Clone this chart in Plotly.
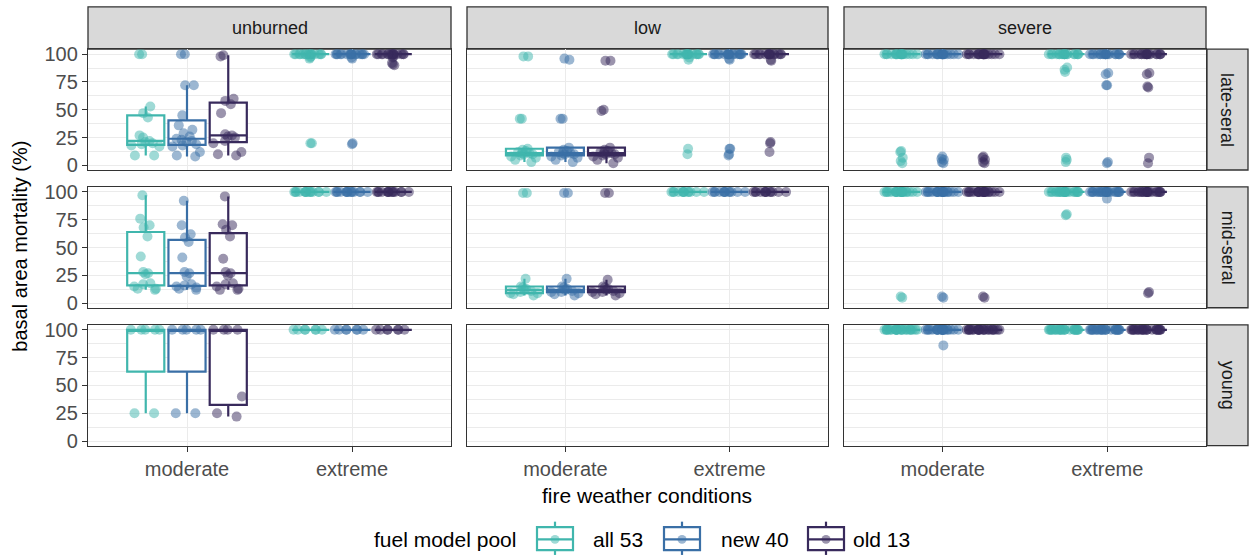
import plotly.graph_objects as go
from plotly.subplots import make_subplots

W, H = 1250, 558

severities = ["unburned", "low", "severe"]
structures = ["late-seral", "mid-seral", "young"]
weather = ["moderate", "extreme"]
pools = ["all 53", "new 40", "old 13"]
pool_colors = ["#40b6ad", "#3a6fa6", "#382a5c"]
y_ticks = [0, 25, 50, 75, 100]
y_tick_labels = ["0", "25", "50", "75", "100"]

# basal area mortality (%) per stand, by structure / severity / weather / pool
late_unburned_mod_all = [9, 9, 17, 18, 19, 20, 21, 22, 25, 27, 43, 47, 53, 100, 100]
late_unburned_mod_new = [8, 9, 12, 17, 18, 19, 21, 22, 23, 24, 26, 29, 32, 36, 45, 72, 72, 100, 100]
late_unburned_mod_old = [9, 10, 12, 20, 22, 25, 26, 27, 28, 47, 55, 58, 60, 98, 99]
late_unburned_ext_all = [20, 20, 96, 97, 98] + [100] * 16
late_unburned_ext_new = [19, 20, 96, 97] + [100] * 17
late_unburned_ext_old = [90, 91, 92, 97, 98] + [100] * 16

mid_unburned_mod_all = [12, 13, 13, 15, 17, 18, 26, 27, 28, 42, 60, 68, 70, 76, 97]
mid_unburned_mod_new = [12, 13, 14, 15, 16, 17, 24, 27, 28, 41, 55, 59, 62, 70, 92]
mid_unburned_mod_old = [12, 12, 13, 15, 17, 18, 25, 27, 28, 40, 60, 66, 70, 71, 96]
mid_unburned_ext_all = [100] * 15
mid_unburned_ext_new = [100] * 15
mid_unburned_ext_old = [100] * 15

young_unburned_mod_all = [25, 25, 100, 100, 100, 100, 100]
young_unburned_mod_new = [25, 25, 100, 100, 100, 100, 100]
young_unburned_mod_old = [22, 25, 40, 100, 100, 100, 100]
young_unburned_ext_all = [100] * 7
young_unburned_ext_new = [100] * 7
young_unburned_ext_old = [100] * 7

late_low_mod_all = [3, 5, 7, 8, 9, 10, 10, 11, 11, 12, 13, 14, 15, 42, 42, 98, 98]
late_low_mod_new = [3, 5, 7, 8, 9, 10, 10, 11, 11, 12, 13, 14, 16, 42, 42, 95, 96]
late_low_mod_old = [2, 5, 7, 8, 9, 10, 10, 11, 11, 12, 13, 14, 16, 49, 50, 94, 94]
late_low_ext_all = [10, 15, 95, 97] + [100] * 17
late_low_ext_new = [9, 10, 15, 15, 95, 96] + [100] * 19
late_low_ext_old = [12, 20, 21, 94, 95] + [100] * 16

mid_low_mod_all = [7, 8, 9, 9, 10, 11, 12, 13, 14, 15, 22, 99, 99]
mid_low_mod_new = [7, 8, 9, 10, 10, 11, 12, 13, 14, 15, 22, 99, 99]
mid_low_mod_old = [7, 8, 9, 10, 10, 11, 12, 13, 14, 15, 21, 99, 99]
mid_low_ext_all = [100] * 13
mid_low_ext_new = [100] * 13
mid_low_ext_old = [100] * 13

late_severe_mod_all = [2, 4, 7, 12, 13] + [100] * 20
late_severe_mod_new = [2, 3, 5, 6, 8] + [100] * 20
late_severe_mod_old = [2, 3, 5, 7, 8] + [100] * 20
late_severe_ext_all = [3, 5, 7, 84, 86, 88] + [100] * 19
late_severe_ext_new = [2, 3, 72, 72, 82, 83] + [100] * 19
late_severe_ext_old = [2, 7, 70, 71, 82, 83] + [100] * 19

mid_severe_mod_all = [5, 6] + [100] * 23
mid_severe_mod_new = [5, 6] + [100] * 23
mid_severe_mod_old = [5, 6] + [100] * 23
mid_severe_ext_all = [79, 80] + [100] * 23
mid_severe_ext_new = [94] + [100] * 24
mid_severe_ext_old = [9, 10] + [100] * 23

young_severe_mod_all = [100] * 25
young_severe_mod_new = [86] + [100] * 24
young_severe_mod_old = [100] * 25
young_severe_ext_all = [100] * 25
young_severe_ext_new = [100] * 25
young_severe_ext_old = [100] * 25

panels = {
    ("late-seral", "unburned"): [(late_unburned_mod_all, late_unburned_ext_all),
                                 (late_unburned_mod_new, late_unburned_ext_new),
                                 (late_unburned_mod_old, late_unburned_ext_old)],
    ("mid-seral", "unburned"): [(mid_unburned_mod_all, mid_unburned_ext_all),
                                (mid_unburned_mod_new, mid_unburned_ext_new),
                                (mid_unburned_mod_old, mid_unburned_ext_old)],
    ("young", "unburned"): [(young_unburned_mod_all, young_unburned_ext_all),
                            (young_unburned_mod_new, young_unburned_ext_new),
                            (young_unburned_mod_old, young_unburned_ext_old)],
    ("late-seral", "low"): [(late_low_mod_all, late_low_ext_all),
                            (late_low_mod_new, late_low_ext_new),
                            (late_low_mod_old, late_low_ext_old)],
    ("mid-seral", "low"): [(mid_low_mod_all, mid_low_ext_all),
                           (mid_low_mod_new, mid_low_ext_new),
                           (mid_low_mod_old, mid_low_ext_old)],
    ("late-seral", "severe"): [(late_severe_mod_all, late_severe_ext_all),
                               (late_severe_mod_new, late_severe_ext_new),
                               (late_severe_mod_old, late_severe_ext_old)],
    ("mid-seral", "severe"): [(mid_severe_mod_all, mid_severe_ext_all),
                              (mid_severe_mod_new, mid_severe_ext_new),
                              (mid_severe_mod_old, mid_severe_ext_old)],
    ("young", "severe"): [(young_severe_mod_all, young_severe_ext_all),
                          (young_severe_mod_new, young_severe_ext_new),
                          (young_severe_mod_old, young_severe_ext_old)],
}

# ---- layout geometry (pixels) ----
col_px = [(88, 451), (467, 828), (844, 1206)]
row_px = [(44.1, 167.6), (184.9, 308.4), (325.8, 449.3)]
strip_top = (0.8, 44.1)
strip_right = (1207, 1248)

FONT = "Liberation Sans"
GRID = "#ebebeb"
BORDER = "#333333"
TICK_SIZE = 20
STRIP_SIZE = 18
TITLE_SIZE = 21
LEGEND_SIZE = 21


def px(x):
    return x / W


def py(y):
    return 1 - y / H


fig = make_subplots(rows=3, cols=3)

for r, structure in enumerate(structures):
    for c, severity in enumerate(severities):
        groups = panels.get((structure, severity))
        if groups is None:
            # empty facet: keep its axes and category slots
            fig.add_trace(go.Scatter(x=weather, y=[None, None], mode="markers",
                                     showlegend=False, hoverinfo="skip"),
                          row=r + 1, col=c + 1)
            continue
        for (mod, ext), pool, color in zip(groups, pools, pool_colors):
            fig.add_trace(
                go.Box(
                    x=[weather[0]] * len(mod) + [weather[1]] * len(ext),
                    y=mod + ext,
                    name=pool,
                    alignmentgroup="facet",
                    offsetgroup=pool,
                    boxpoints="all",
                    jitter=0.95,
                    pointpos=0,
                    quartilemethod="inclusive",
                    whiskerwidth=0,
                    fillcolor="white",
                    line=dict(color=color, width=2.2),
                    marker=dict(color=color, opacity=0.5, size=10, line=dict(width=0)),
                    showlegend=False,
                    hoverinfo="skip",
                ),
                row=r + 1, col=c + 1,
            )

for r in range(3):
    for c in range(3):
        idx = r * 3 + c + 1
        xa = "xaxis" if idx == 1 else f"xaxis{idx}"
        ya = "yaxis" if idx == 1 else f"yaxis{idx}"
        x0, x1 = col_px[c]
        y0, y1 = row_px[r]
        fig.layout[xa].update(
            domain=[px(x0), px(x1)],
            type="category",
            categoryorder="array",
            categoryarray=weather,
            range=[-0.6, 1.6],
            showgrid=True, gridcolor=GRID, gridwidth=1.3,
            showline=True, mirror=True, linecolor=BORDER, linewidth=1.3,
            zeroline=False,
            ticks="outside" if r == 2 else "",
            ticklen=5, tickwidth=1.3, tickcolor=BORDER,
            ticklabelstandoff=0,
            showticklabels=(r == 2),
            tickfont=dict(family=FONT, size=TICK_SIZE, color="#4d4d4d"),
        )
        fig.layout[ya].update(
            domain=[py(y1), py(y0)],
            range=[-4.1, 104.5],
            tickvals=y_ticks,
            ticktext=y_tick_labels,
            showgrid=True, gridcolor=GRID, gridwidth=1.3,
            minor=dict(tickvals=[12.5, 37.5, 62.5, 87.5], showgrid=True,
                       gridcolor=GRID, gridwidth=0.8),
            showline=True, mirror=True, linecolor=BORDER, linewidth=1.3,
            zeroline=False,
            ticks="outside" if c == 0 else "",
            ticklen=5, tickwidth=1.3, tickcolor=BORDER,
            showticklabels=(c == 0),
            tickfont=dict(family=FONT, size=TICK_SIZE, color="#4d4d4d"),
        )

shapes = []
annotations = []

# facet strips
for c, severity in enumerate(severities):
    x0, x1 = col_px[c]
    shapes.append(dict(type="rect", xref="paper", yref="paper",
                       x0=px(x0), x1=px(x1), y0=py(strip_top[1]), y1=py(strip_top[0]),
                       fillcolor="#d9d9d9", line=dict(color=BORDER, width=1.3), layer="below"))
    annotations.append(dict(text=severity, xref="paper", yref="paper",
                            x=px((x0 + x1) / 2), y=py(sum(strip_top) / 2),
                            showarrow=False, xanchor="center", yanchor="middle",
                            font=dict(family=FONT, size=STRIP_SIZE, color="#1a1a1a")))
for r, structure in enumerate(structures):
    y0, y1 = row_px[r]
    shapes.append(dict(type="rect", xref="paper", yref="paper",
                       x0=px(strip_right[0]), x1=px(strip_right[1]), y0=py(y1), y1=py(y0),
                       fillcolor="#d9d9d9", line=dict(color=BORDER, width=1.3), layer="below"))
    annotations.append(dict(text=structure, xref="paper", yref="paper",
                            x=px(sum(strip_right) / 2), y=py((y0 + y1) / 2),
                            showarrow=False, textangle=90, xanchor="center", yanchor="middle",
                            font=dict(family=FONT, size=STRIP_SIZE, color="#1a1a1a")))

# axis titles
annotations.append(dict(text="basal area mortality (%)", xref="paper", yref="paper",
                        x=px(20), y=py(246), showarrow=False, textangle=-90,
                        xanchor="center", yanchor="middle",
                        font=dict(family=FONT, size=20, color="black")))
annotations.append(dict(text="fire weather conditions", xref="paper", yref="paper",
                        x=px(647), y=py(500), showarrow=False,
                        xanchor="center", yanchor="middle",
                        font=dict(family=FONT, size=TITLE_SIZE, color="black")))

# legend
leg_y = 545
annotations.append(dict(text="fuel model pool", xref="paper", yref="paper",
                        x=px(372), y=py(leg_y), showarrow=False,
                        xanchor="left", yanchor="middle",
                        font=dict(family=FONT, size=LEGEND_SIZE, color="black")))
key_centers = [555, 682, 826]
label_x = [591, 719, 851]
for cx, lx, pool, color in zip(key_centers, label_x, pools, pool_colors):
    shapes.append(dict(type="line", xref="paper", yref="paper",
                       x0=px(cx), x1=px(cx), y0=py(527), y1=py(561),
                       line=dict(color=color, width=2.2)))
    shapes.append(dict(type="rect", xref="paper", yref="paper",
                       x0=px(cx - 18), x1=px(cx + 18), y0=py(556), y1=py(532.5),
                       fillcolor="white", line=dict(color=color, width=2.2)))
    shapes.append(dict(type="line", xref="paper", yref="paper",
                       x0=px(cx - 18), x1=px(cx + 18), y0=py(leg_y), y1=py(leg_y),
                       line=dict(color=color, width=2.2)))
    shapes.append(dict(type="circle", xref="paper", yref="paper",
                       x0=px(cx - 4.5), x1=px(cx + 4.5), y0=py(leg_y + 4.5), y1=py(leg_y - 4.5),
                       fillcolor=color, opacity=0.5, line=dict(width=0)))
    annotations.append(dict(text=pool, xref="paper", yref="paper",
                            x=px(lx), y=py(leg_y), showarrow=False,
                            xanchor="left", yanchor="middle",
                            font=dict(family=FONT, size=LEGEND_SIZE, color="black")))

fig.update_layout(
    width=W, height=H,
    margin=dict(l=0, r=0, t=0, b=0),
    paper_bgcolor="white", plot_bgcolor="white",
    boxmode="group", boxgap=0.25, boxgroupgap=0.1,
    shapes=shapes, annotations=annotations,
    showlegend=False,
    font=dict(family=FONT),
)

fig.write_html("out.html")
